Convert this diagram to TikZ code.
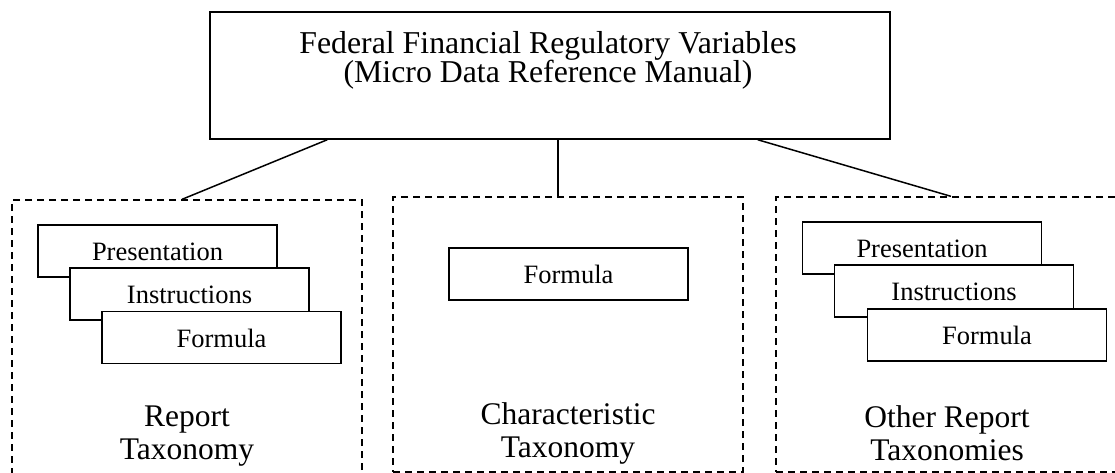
\documentclass[tikz,border=0pt]{standalone}
\usepackage{fontspec}
\setmainfont{Liberation Serif}
\usetikzlibrary{calc}
\tikzset{
  topbox/.style={draw, line width=1.5pt, minimum width=680pt, minimum height=127pt, inner sep=0pt},
  toptxt/.style={align=center, inner sep=0pt, font=\fontsize{31.8}{29.8}\selectfont},
  groupbox/.style={draw, line width=1.3pt, dash pattern=on 7pt off 5pt, minimum width=350pt, inner sep=0pt},
  ibox/.style={draw, fill=white, line width=1.3pt, minimum width=239pt, minimum height=52pt, inner sep=0pt,
    text height=19pt, text depth=0pt, font=\fontsize{26.5}{30}\selectfont},
  lbl/.style={align=center, inner sep=0pt, font=\fontsize{31.5}{33}\selectfont},
  conn/.style={line width=1.5pt}
}
\begin{document}
\begin{tikzpicture}[x=1pt, y=-1pt]
\useasboundingbox (0,0) rectangle (1115,473);
\clip (0,0) rectangle (1115,473);
% top box
\node[topbox] (top) at (550,75.5) {};
\node[toptxt] (toptext) at (548,60.3)
  {Federal Financial Regulatory Variables\\(Micro Data Reference Manual)};
% group boxes
\node[groupbox, minimum height=280pt] (lbox) at (187,340) {};
\node[groupbox, minimum height=275pt] (mbox) at (568,334.5) {};
\node[groupbox, minimum height=275pt] (rbox) at (951,334.5) {};
% connectors
\coordinate (c2) at (558,197);
\draw[conn] ([xshift=118pt]top.south west) -- ([xshift=-5pt]lbox.north);
\draw[conn] (top.south -| c2) -- (c2);
\draw[conn] ([xshift=-133pt]top.south east) -- (rbox.north);
% left stack
\node[ibox] (lp) at (157.5,251) {Presentation};
\node[ibox] (li) at (189.5,294) {Instructions};
\node[ibox] (lf) at (221.5,337.5) {Formula};
% middle
\node[ibox] (mf) at (568.5,274) {Formula};
% right stack
\node[ibox] (rp) at (922,248) {Presentation};
\node[ibox] (ri) at (954,291) {Instructions};
\node[ibox] (rf) at (987,335) {Formula};
% labels
\node[lbl] (ll) at (187,436) {Report\\Taxonomy};
\node[lbl] (ml) at (568,433) {Characteristic\\Taxonomy};
\node[lbl] (rl) at (947,433) {Other Report\\Taxonomies};
\end{tikzpicture}
\end{document}
